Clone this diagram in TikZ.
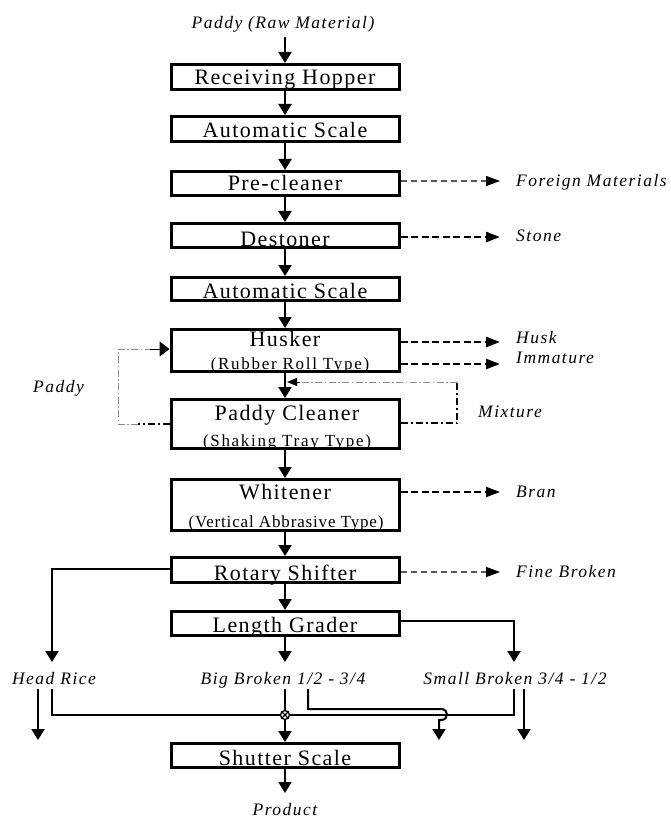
\documentclass[tikz,border=0pt]{standalone}
\usepackage{fontspec}
\setmainfont{Liberation Serif}
\newfontfamily\boxfont[LetterSpace=6.5]{Liberation Serif}
\newfontfamily\subfont[LetterSpace=10]{Liberation Serif}
\newfontfamily\subfontn[LetterSpace=5]{Liberation Serif}
\newfontfamily\labfont[LetterSpace=8.5]{Liberation Serif}
\usetikzlibrary{arrows.meta}
\begin{document}
\begin{tikzpicture}[x=1pt,y=-1pt,
  box/.style={draw,line width=3pt,minimum width=228pt,inner sep=0pt},
  btxt/.style={font=\boxfont\fontsize{22}{26}\selectfont,inner sep=0pt,anchor=base},
  stxt/.style={font=\subfont\fontsize{17}{20}\selectfont,inner sep=0pt,anchor=base},
  lab/.style={font=\labfont\itshape\fontsize{17.5}{21}\selectfont,inner sep=0pt,anchor=base west},
  clab/.style={font=\labfont\itshape\fontsize{17.5}{21}\selectfont,inner sep=0pt,anchor=base},
  flow/.style={line width=2pt,-{Triangle[width=13pt,length=11pt]}},
  plain/.style={line width=2pt},
  outthin/.style={line width=1.3pt,dash pattern=on 6pt off 4pt,black!65,-{Triangle[width=10pt,length=14pt,color=black]}},
  outthick/.style={line width=2.6pt,dash pattern=on 7pt off 3.5pt,-{Triangle[width=10pt,length=14pt]}},
  outmid/.style={line width=2pt,dash pattern=on 7pt off 3.5pt,-{Triangle[width=10pt,length=14pt]}},
  loopgray/.style={line width=1pt,black!45,dash pattern=on 7pt off 2.5pt on 1.5pt off 2.5pt},
  loopdark/.style={line width=2.6pt,dash pattern=on 7pt off 3pt on 2pt off 3pt},
]
\useasboundingbox (0,0) rectangle (670,818);

% boxes
\node[box,minimum height=25pt] (rh) at (285,77) {};
\node[box,minimum height=25pt] (as1) at (285,129) {};
\node[box,minimum height=24pt] (pc) at (285,183.5) {};
\node[box,minimum height=24pt] (ds) at (285,235.5) {};
\node[box,minimum height=23pt] (as2) at (285,289) {};
\node[box,minimum height=42pt] (hu) at (285,350.5) {};
\node[box,minimum height=49pt] (pcl) at (285,424) {};
\node[box,minimum height=51pt] (wh) at (285,505) {};
\node[box,minimum height=25pt] (rs) at (285,570) {};
\node[box,minimum height=24pt] (lg) at (285,623.5) {};
\node[box,minimum height=24pt] (ss) at (285,755.5) {};

% box texts
\node[btxt] (rht) at (285,85) {Receiving Hopper};
\node[btxt] (as1t) at (285,138) {Automatic Scale};
\node[btxt] (pct) at (285,191) {Pre-cleaner};
\node[btxt] (dst) at (285,246) {Destoner};
\node[btxt] (as2t) at (285,298) {Automatic Scale};
\node[btxt] (hut) at (285,346) {Husker};
\node[stxt] (hus) at (290,369) {(Rubber Roll Type)};
\node[btxt] (pclt) at (287,420) {Paddy Cleaner};
\node[stxt] (pcls) at (287,446) {(Shaking Tray Type)};
\node[btxt] (wht) at (285,499) {Whitener};
\node[stxt,font=\subfontn\fontsize{17}{20}\selectfont] (whs) at (286,527) {(Vertical Abbrasive Type)};
\node[btxt] (rst) at (285,580) {Rotary Shifter};
\node[btxt] (lgt) at (285,632) {Length Grader};
\node[btxt] (sst) at (285,765) {Shutter Scale};

% labels
\node[clab] (raw) at (283,29) {Paddy (Raw Material)};
\node[lab] (fm) at (516,187) {Foreign Materials};
\node[lab] (st) at (516,241) {Stone};
\node[lab] (hk) at (516,343) {Husk};
\node[lab] (im) at (516,363) {Immature};
\node[lab] (mx) at (478,417) {Mixture};
\node[lab] (pd) at (33,392) {Paddy};
\node[lab] (br) at (516,497) {Bran};
\node[lab] (fb) at (516,577) {Fine Broken};
\node[clab,inner sep=2pt] (hr) at (54,684) {Head Rice};
\node[clab,inner sep=2pt] (bb) at (283,684) {Big Broken 1/2 - 3/4};
\node[clab,inner sep=2pt] (sb) at (515,684) {Small Broken 3/4 - 1/2};
\node[clab] (pr) at (285,815) {Product};

% main flow
\coordinate (rawb) at (285,37);
\draw[flow] (rawb) -- (rh.north);
\draw[flow] (rh.south) -- (as1.north);
\draw[flow] (as1.south) -- (pc.north);
\draw[flow] (pc.south) -- (ds.north);
\draw[flow] (ds.south) -- (as2.north);
\draw[flow] (as2.south) -- (hu.north);
\draw[flow] (hu.south) -- (pcl.north);
\draw[flow] (pcl.south) -- (wh.north);
\draw[flow] (wh.south) -- (rs.north);
\draw[flow] (rs.south) -- (lg.north);
\coordinate (prt) at (285,793);
\draw[flow] (ss.south) -- (prt);

% side outputs
\coordinate (fmA) at (500,181);
\coordinate (stA) at (500,237);
\coordinate (hkA) at (500,342);
\coordinate (imA) at (500,364);
\coordinate (brA) at (500,492);
\coordinate (fbA) at (500,572);
\draw[outthin] (pc.east |- fmA) -- (fmA);
\draw[outthick] (ds.east |- stA) -- (stA);
\draw[outthick] (hu.east |- hkA) -- (hkA);
\draw[outthick] (hu.east |- imA) -- (imA);
\draw[outmid] (wh.east |- brA) -- (brA);
\draw[outthin] (rs.east |- fbA) -- (fbA);

% paddy return loop
\coordinate (pl1) at (118,424);
\coordinate (pl2) at (118,349);
\draw[loopdark,line width=1.6pt] (pcl.west |- pl1) -- (138,424);
\draw[loopgray] (138,424) -- (pl1) -- (pl2) -- (150,349);
\draw[line width=1pt,-{Triangle[width=15pt,length=10pt]}] (150,349) -- (hu.west |- pl2);

% mixture loop
\coordinate (ml1) at (457,423);
\coordinate (ml2) at (457,382);
\coordinate (mlt) at (287,382);
\draw[loopdark] (pcl.east |- ml1) -- (ml1) -- (ml2);
\draw[loopgray] (ml2) -- (300,382);
\draw[line width=1pt,-{Triangle[width=8pt,length=10pt]}] (300,382) -- (mlt);

% grading outputs
\coordinate (hrT) at (52,662);
\coordinate (sbT) at (514,662);
\draw[flow] (rs.west |- 0,569) -| (hrT);
\draw[flow] (lg.south) -- (285,662);
\draw[flow] (lg.east |- 0,621) -| (sbT);

% merge line
\node[draw,circle,line width=1.3pt,fill=white,inner sep=0pt,minimum size=9pt] (mix) at (285,715) {};
\draw[plain] (52,689) |- (mix.west);
\draw[plain] (mix.east) -- (442,715) -| (514,689);
\draw[plain] (285,689) -- (mix.north);
\draw[flow] (mix.south) -- (ss.north);
\draw[line width=1.2pt] (mix.north west) -- (mix.south east) (mix.north east) -- (mix.south west);

% secondary outputs
\coordinate (hrB) at (38,740);
\coordinate (bbB) at (439,740);
\coordinate (sbB) at (524,740);
\draw[flow] (38,689) -- (hrB);
\draw[flow] (524,689) -- (sbB);
\draw[line width=2pt,-{Triangle[width=13pt,length=11pt]}] (308,689) -- (308,709) -- (441,709)
  .. controls (449,709) and (449,720) .. (441,720) -- (439,720) -- (bbB);
\end{tikzpicture}
\end{document}
